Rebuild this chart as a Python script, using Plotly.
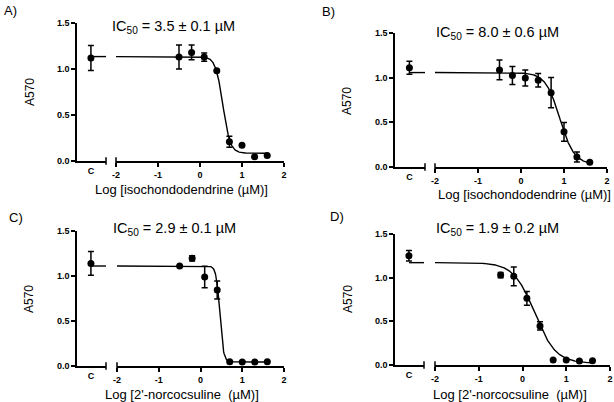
import numpy as np
import plotly.graph_objects as go

# ---------------- data ----------------
log_conc = [-0.5, -0.2, 0.1, 0.4, 0.7, 1.0, 1.3, 1.6]

panel_labels = ["A)", "B)", "C)", "D)"]
x_titles = ["Log [isochondodendrine (µM)]",
            "Log [isochondodendrine (µM)]",
            "Log [2'-norcocsuline\u00a0 (µM)]",
            "Log [2'-norcocsuline\u00a0 (µM)]"]
ic50_labels = ["3.5 ± 0.1", "8.0 ± 0.6", "2.9 ± 0.1", "1.9 ± 0.2"]
ic50_um = [3.5, 8.0, 2.9, 1.9]

control_vals = [1.12, 1.11, 1.14, 1.25]
control_err = [0.135, 0.073, 0.133, 0.06]

A_vals = [1.13, 1.18, 1.13, 0.98, 0.21, 0.17, 0.047, 0.06]
A_err = [0.13, 0.08, 0.045, 0.0, 0.06, 0.0, 0.0, 0.0]
B_vals = [1.087, 1.024, 0.997, 0.971, 0.832, 0.394, 0.112, 0.052]
B_err = [0.11, 0.10, 0.09, 0.075, 0.17, 0.105, 0.056, 0.0]
C_vals = [1.111, 1.196, 0.989, 0.844, 0.048, 0.044, 0.044, 0.048]
C_err = [0.0, 0.028, 0.12, 0.10, 0.0, 0.0, 0.0, 0.0]
D_vals = [1.03, 1.015, 0.763, 0.447, 0.057, 0.057, 0.046, 0.05]
D_err = [0.03, 0.107, 0.08, 0.047, 0.0, 0.0, 0.0, 0.0]

series_vals = [A_vals, B_vals, C_vals, D_vals]
series_err = [A_err, B_err, C_err, D_err]

# four-parameter logistic fit parameters
fit_top = [1.135, 1.057, 1.111, 1.172]
fit_bottom = [0.085, 0.03, 0.045, 0.02]
fit_hill = [5.0, 2.6, 10.0, 1.8]

y_tickvals = [0, 0.5, 1.0, 1.5]
y_ticktext = ["0.0", "0.5", "1.0", "1.5"]
x_tickvals = [-2, -1, 0, 1, 2]

# ---------------- layout geometry (pixels) ----------------
W, H = 614, 402
def px(x):
    return x / W
def py(y):
    return 1 - y / H

geom = [
    dict(x0=77, cend=106, lstart=116, lend=284, ybot=161, ytop=23),
    dict(x0=395, cend=425, lstart=435, lend=607, ybot=167, ytop=33),
    dict(x0=77, cend=106, lstart=117, lend=284, ybot=366, ytop=231),
    dict(x0=395, cend=424, lstart=435, lend=610, ybot=365, ytop=234),
]
label_pos = [(10, 10), (328, 11), (16, 217), (337, 216)]
ic50_pos = [(173, 27), (497, 33), (174, 229), (497, 229)]
a570_pos = [(30, 92), (347, 101), (29, 299), (348, 299)]
xtitle_pos = [(181, 190), (524, 194), (182, 394), (510, 394)]

FONT = "Liberation Sans, Arial, sans-serif"
ctrl_range = [0, 1]
ctrl_pos = 0.48

def ax_name(n):
    return "" if n == 1 else str(n)

fig = go.Figure()
layout = dict(
    width=W, height=H, margin=dict(l=0, r=0, t=0, b=0, autoexpand=False),
    paper_bgcolor="white", plot_bgcolor="white",
    showlegend=False, font=dict(family=FONT, color="black"),
)
annotations = []
shapes = []

for i in range(4):
    g = geom[i]
    xc = "x" + ax_name(2 * i + 1)
    xl = "x" + ax_name(2 * i + 2)
    yy = "y" + ax_name(i + 1)
    xc_key = "xaxis" + ax_name(2 * i + 1)
    xl_key = "xaxis" + ax_name(2 * i + 2)
    y_key = "yaxis" + ax_name(i + 1)

    top, bot, hill = fit_top[i], fit_bottom[i], fit_hill[i]
    logic50 = np.log10(ic50_um[i])

    xs = np.linspace(-2, max(log_conc), 400)
    ys = bot + (top - bot) / (1 + 10 ** ((xs - logic50) * hill))
    fig.add_trace(go.Scatter(x=xs, y=ys, mode="lines",
                             line=dict(color="black", width=1.4),
                             xaxis=xl, yaxis=yy, hoverinfo="skip"))
    fig.add_trace(go.Scatter(x=[ctrl_pos, ctrl_range[1]], y=[top, top],
                             mode="lines", line=dict(color="black", width=1.4),
                             xaxis=xc, yaxis=yy, cliponaxis=False, hoverinfo="skip"))
    fig.add_trace(go.Scatter(x=[ctrl_pos], y=[control_vals[i]], mode="markers",
                             marker=dict(color="black", size=7),
                             error_y=dict(type="data", array=[control_err[i]],
                                          color="black", thickness=1.5, width=3),
                             xaxis=xc, yaxis=yy, cliponaxis=False))
    fig.add_trace(go.Scatter(x=log_conc, y=series_vals[i], mode="markers",
                             marker=dict(color="black", size=7),
                             error_y=dict(type="data", array=series_err[i],
                                          color="black", thickness=1.5, width=3),
                             xaxis=xl, yaxis=yy, cliponaxis=False))

    layout[xc_key] = dict(
        domain=[px(g["x0"]), px(g["cend"])], range=ctrl_range, anchor=yy,
        showline=True, linecolor="black", linewidth=1.5, showgrid=False,
        zeroline=False, tickvals=[ctrl_pos], ticktext=["<b>C</b>"], ticks="",
        tickfont=dict(size=9, family=FONT), fixedrange=True, automargin=False,
    )
    layout[xl_key] = dict(
        domain=[px(g["lstart"]), px(g["lend"])], range=[-2, 2], anchor=yy,
        showline=True, linecolor="black", linewidth=1.5, showgrid=False,
        zeroline=False, tickvals=x_tickvals,
        ticktext=[f"<b>{v}</b>" for v in x_tickvals],
        ticks="outside", ticklen=4, tickwidth=1.5, tickcolor="black",
        tickfont=dict(size=9, family=FONT), fixedrange=True, automargin=False,
    )
    layout[y_key] = dict(
        domain=[py(g["ybot"]), py(g["ytop"])], range=[0, 1.5], anchor=xc,
        showline=True, linecolor="black", linewidth=1.5, showgrid=False,
        zeroline=False, tickvals=y_tickvals,
        ticktext=[f"<b>{t}</b>" for t in y_ticktext],
        ticks="outside", ticklen=4, tickwidth=1.5, tickcolor="black",
        tickfont=dict(size=9, family=FONT), fixedrange=True, automargin=False,
    )

    for xref, xv in ((f"{xc} domain", 1), (f"{xl} domain", 0)):
        shapes.append(dict(type="line", xref=xref, yref=f"{yy} domain",
                           x0=xv, x1=xv, y0=-0.028, y1=0.028,
                           line=dict(color="black", width=1.5)))

    common = dict(xref="paper", yref="paper", showarrow=False,
                  xanchor="center", yanchor="middle")
    annotations += [
        dict(text=panel_labels[i], x=px(label_pos[i][0]), y=py(label_pos[i][1]),
             font=dict(size=13, family=FONT), **common),
        dict(text=f"IC<sub>50</sub> = {ic50_labels[i]} µM",
             x=px(ic50_pos[i][0]), y=py(ic50_pos[i][1]),
             font=dict(size=14.5, family=FONT), **common),
        dict(text="A570", x=px(a570_pos[i][0]), y=py(a570_pos[i][1]),
             textangle=-90, font=dict(size=12, family=FONT), **common),
        dict(text=x_titles[i], x=px(xtitle_pos[i][0]), y=py(xtitle_pos[i][1]),
             font=dict(size=13, family=FONT), **common),
    ]

layout["annotations"] = annotations
layout["shapes"] = shapes
fig.update_layout(**layout)
fig.write_html("out.html",
               config={"displayModeBar": False},
               post_script="document.body.style.margin='0';"
                           "document.body.style.padding='0';"
                           "document.body.style.overflow='hidden';")
